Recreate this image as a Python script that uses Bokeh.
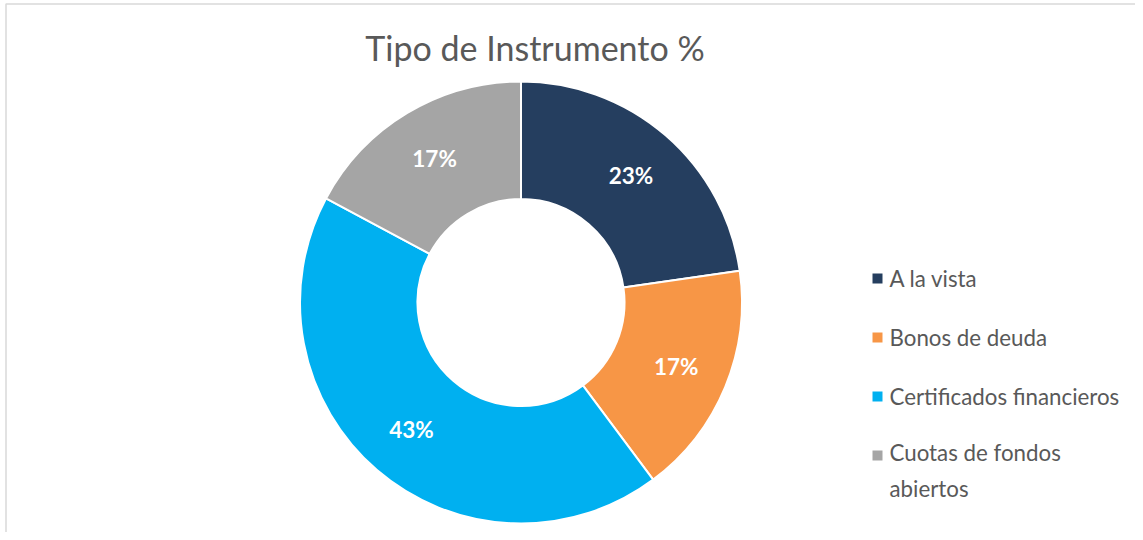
import math
from bokeh.plotting import figure
from bokeh.models import Range1d, ColumnDataSource
from bokeh.core.properties import value
from bokeh.embed import file_html
from bokeh.resources import INLINE

# ---- data ----
title_text = "Tipo de Instrumento %"
categories = ["A la vista", "Bonos de deuda", "Certificados financieros", "Cuotas de fondos\nabiertos"]
shares = [22.7, 17.1, 43.0, 17.2]
colors = ["#253E5F", "#F79646", "#00B0F0", "#A5A5A5"]

W, H = 1135, 532
p = figure(width=W, height=H, output_backend="svg", toolbar_location=None,
           x_range=Range1d(0, W), y_range=Range1d(0, H), min_border=0,
           outline_line_color=None)
p.axis.visible = False
p.xgrid.visible = False
p.ygrid.visible = False
p.background_fill_color = "white"

# chart-area border (light gray), extends beyond right/bottom edges
p.quad(left=[5.5], right=[W + 50], top=[H - 3.5], bottom=[-50],
       fill_color=None, line_color="#D9D9D9", line_width=1.5)

# donut geometry (data units == pixels)
cx, cy = 520.5, H - 302
r_in, r_out = 103.5, 221

total = sum(shares)
starts, ends, lx, ly, labels = [], [], [], [], []
cum = 0.0
for s in shares:
    a0 = math.pi / 2 - 2 * math.pi * cum / total
    cum += s
    a1 = math.pi / 2 - 2 * math.pi * cum / total
    starts.append(a0)
    ends.append(a1)
    mid = (a0 + a1) / 2
    rl = 168
    lx.append(cx + rl * math.cos(mid))
    ly.append(cy + rl * math.sin(mid))
    labels.append(f"{round(s / total * 100)}%")

src = ColumnDataSource(dict(start=starts, end=ends, color=colors, lx=lx, ly=ly, label=labels))
p.annular_wedge(x=cx, y=cy, inner_radius=r_in, outer_radius=r_out,
                start_angle="start", end_angle="end", direction="clock",
                fill_color="color", line_color="white", line_width=2, source=src)

p.text(x="lx", y="ly", text="label", source=src, text_color="white",
       text_font=value("Lato"), text_font_style="bold", text_font_size="22.5px",
       text_align="center", text_baseline="middle")

# title
p.text(x=[534.5], y=[H - 47], text=[title_text], text_font=value("Lato"),
       text_font_size="34px", text_color="#595959",
       text_align="center", text_baseline="middle")

# legend
leg_x = 877
leg_y0 = H - 278
step = 59
line_h = 30
ys = [leg_y0 - i * step for i in range(len(categories))]
ty = [y - cat.count("\n") * line_h / 2 for y, cat in zip(ys, categories)]
p.scatter(x=[leg_x] * len(categories), y=ys, marker="square", size=10,
          fill_color=colors, line_color=None)
p.text(x=[leg_x + 12] * len(categories), y=ty, text=categories,
       text_font=value("Lato"), text_font_size="22.3px", text_color="#595959",
       text_align="left", text_baseline="middle", text_line_height=1.35)

open("out.html", "w").write(file_html(p, INLINE))
